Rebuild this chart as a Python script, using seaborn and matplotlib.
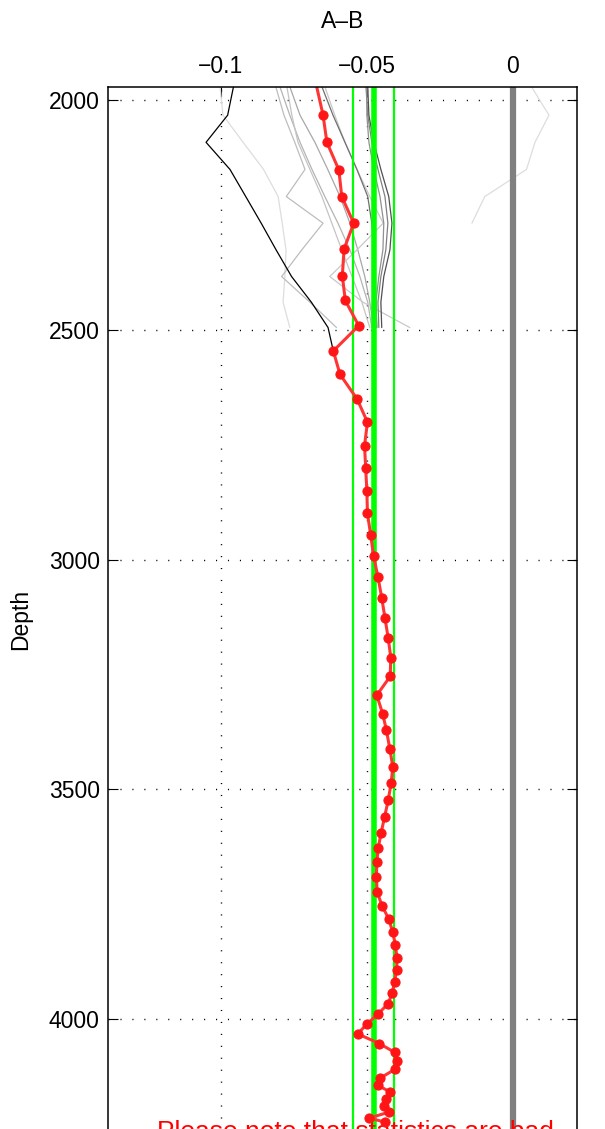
import numpy as np
import pandas as pd
import seaborn as sns
import matplotlib
matplotlib.use("Agg")
import matplotlib.pyplot as plt

# red profile (mean A-B by depth)
red_depth = [1917, 2033, 2092, 2152, 2210, 2268, 2324, 2382, 2436, 2491,
             2546, 2597, 2651, 2701, 2752, 2801, 2851, 2899, 2946, 2992,
             3038, 3083, 3127, 3170, 3213, 3254, 3295, 3335, 3371, 3413,
             3451, 3487, 3524, 3559, 3594, 3627, 3659, 3690, 3723, 3753,
             3782, 3811, 3839, 3866, 3892, 3918, 3943, 3966, 3989, 4011,
             4032, 4053, 4072, 4091, 4109, 4128, 4144, 4159, 4174, 4188,
             4202, 4215, 4224]
red_val = [-0.0691, -0.0650, -0.0637, -0.0596, -0.0586, -0.0545, -0.0578, -0.0584, -0.0574, -0.0528,
           -0.0615, -0.0592, -0.0533, -0.0498, -0.0508, -0.0504, -0.0500, -0.0498, -0.0487, -0.0477,
           -0.0462, -0.0449, -0.0438, -0.0427, -0.0418, -0.0420, -0.0466, -0.0446, -0.0433, -0.0421,
           -0.0411, -0.0417, -0.0427, -0.0439, -0.0451, -0.0461, -0.0466, -0.0467, -0.0465, -0.0448,
           -0.0425, -0.0411, -0.0402, -0.0397, -0.0398, -0.0405, -0.0413, -0.0427, -0.0462, -0.0501,
           -0.0531, -0.0457, -0.0405, -0.0397, -0.0404, -0.0454, -0.0461, -0.0419, -0.0436, -0.0441,
           -0.0424, -0.0491, -0.0438]

# individual profiles in the upper part
prof_depth = [1971, 2033, 2092, 2151, 2210, 2268, 2326, 2384, 2440, 2495]
prof_black = [-0.0957, -0.0977, -0.1051, -0.0969, -0.0915, -0.0862, -0.0811, -0.0758, -0.0690, -0.0633]
prof_light1 = [-0.1003, -0.0993, -0.0924, -0.0854, -0.0804, -0.0790, -0.0777, -0.0781, -0.0787, -0.0764]
prof_light2 = [0.0064, 0.0124, 0.0076, 0.0047, -0.0096, -0.0140]
prof_zig1 = [-0.0812, -0.0784, -0.0747, -0.0712, -0.0776, -0.0650, -0.0723, -0.0792, -0.0695, -0.0604]
prof_zig2 = [-0.0644, -0.0610, -0.0575, -0.0534, -0.0490, -0.0444, -0.0534, -0.0627, -0.0513, -0.0353]
prof_dark1 = [-0.0503, -0.0497, -0.0483, -0.0462, -0.0438, -0.0428, -0.0435, -0.0452, -0.0462, -0.0459]
prof_dark2 = [-0.0497, -0.0493, -0.0476, -0.0452, -0.0425, -0.0414, -0.0421, -0.0442, -0.0452, -0.0449]
prof_dark3 = [-0.0500, -0.0500, -0.0493, -0.0476, -0.0455, -0.0442, -0.0445, -0.0459, -0.0469, -0.0466]
prof_dark4 = [-0.0654, -0.0616, -0.0575, -0.0534, -0.0497, -0.0483, -0.0476, -0.0473, -0.0469, -0.0466]
prof_mid1 = [-0.0798, -0.0764, -0.0729, -0.0688, -0.0644, -0.0599, -0.0558, -0.0524, -0.0497, -0.0483]
prof_mid2 = [-0.0774, -0.0757, -0.0736, -0.0695, -0.0654, -0.0620, -0.0586, -0.0551, -0.0517, -0.0490]
prof_mid3 = [-0.0764, -0.0729, -0.0678, -0.0634, -0.0592, -0.0558, -0.0531, -0.0507, -0.0490, -0.0476]

stat_mean = -0.0476
stat_lo = -0.0547
stat_hi = -0.0407

sns.set_style("white")
plt.rcParams["font.family"] = ["Liberation Sans", "DejaVu Sans"]
plt.rcParams["text.color"] = "black"
plt.rcParams["axes.labelcolor"] = "black"

fig = plt.figure(figsize=(6.05, 11.29), dpi=100)
ax = fig.add_axes([0.1785, -0.02, 0.7752, 0.9432])

profiles = [
    (prof_light1, "#dddddd"),
    (prof_light2, "#dddddd"),
    (prof_mid1, "#b4b4b4"),
    (prof_mid2, "#c4c4c4"),
    (prof_mid3, "#a8a8a8"),
    (prof_zig1, "#bdbdbd"),
    (prof_zig2, "#c8c8c8"),
    (prof_dark4, "#707070"),
    (prof_dark1, "#808080"),
    (prof_dark2, "#505050"),
    (prof_dark3, "#909090"),
]
for vals, col in profiles:
    df = pd.DataFrame({"val": vals, "depth": prof_depth[:len(vals)]})
    sns.lineplot(data=df, x="val", y="depth", sort=False, orient="y",
                 color=col, lw=0.9, ax=ax)

df_black = pd.DataFrame({"val": prof_black + [red_val[10]],
                         "depth": prof_depth + [red_depth[10]]})
sns.lineplot(data=df_black, x="val", y="depth", sort=False, orient="y",
             color="black", lw=0.9, ax=ax)

ax.axvline(0, color="#808080", lw=4.5, zorder=2)
ax.axvline(stat_lo, color="#00ff00", lw=1.6, zorder=3)
ax.axvline(stat_hi, color="#00ff00", lw=1.6, zorder=3)
ax.axvline(stat_mean, color="#00ff00", lw=4.0, zorder=3)

df_red = pd.DataFrame({"val": red_val, "depth": red_depth})
sns.lineplot(data=df_red, x="val", y="depth", sort=False, orient="y",
             color="#ff3535", lw=2.2, marker="o", markersize=6.6,
             markerfacecolor="#ff1515", markeredgecolor="#ff1515", ax=ax, zorder=5)

ax.set_xlim(-0.1387, 0.022)
ax.set_ylim(4288, 1971)
ax.set_xticks([-0.1, -0.05, 0])
ax.set_xticklabels(["\u22120.1", "\u22120.05", "0"])
ax.set_yticks([2000, 2500, 3000, 3500, 4000])
ax.grid(True, color="black", linestyle=(0, (0.8, 7.8)), lw=1.0)
ax.xaxis.tick_top()
ax.xaxis.set_label_position("top")
ax.tick_params(direction="in", length=7, width=0.8, top=True, bottom=True,
               left=True, right=True, labeltop=True, labelbottom=False,
               labelsize=16.5, pad=6, colors="black")
for s in ax.spines.values():
    s.set_color("black")
    s.set_linewidth(1.1)
    s.set_zorder(6)

ax.set_xlabel("A\u2013B", fontsize=16.5, labelpad=20, color="black")
ax.set_ylabel("Depth", fontsize=16.5, labelpad=12, color="black")

ax.text(-0.122, 4261, "Please note that statistics are bad", color="red",
        fontsize=19, ha="left", va="baseline")

fig.savefig("out.png", dpi=100)
